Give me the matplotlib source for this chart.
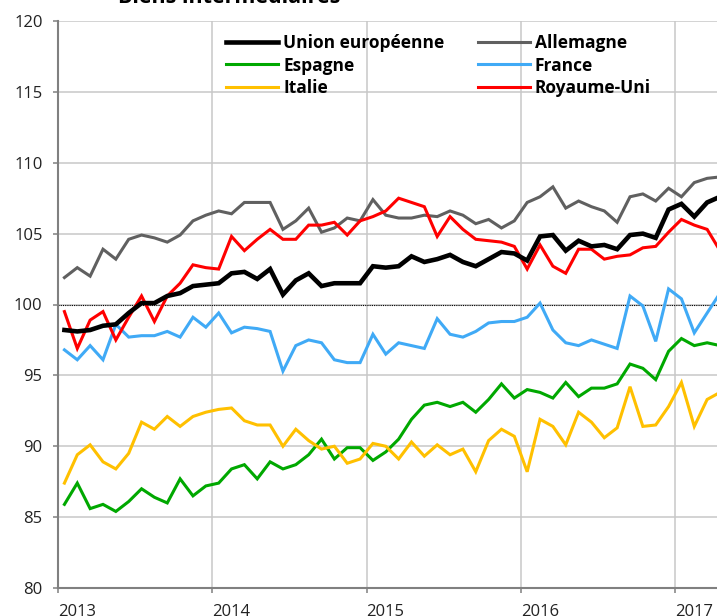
import numpy as np
import matplotlib
matplotlib.use("Agg")
import matplotlib.pyplot as plt

plt.rcParams['font.family'] = ['Open Sans', 'DejaVu Sans']

title = "Biens intermédiaires"
year_labels = ["2013", "2014", "2015", "2016", "2017"]

eu = [98.2, 98.1, 98.2, 98.5, 98.6, 99.4, 100.1, 100.1, 100.6, 100.8, 101.3, 101.4,
      101.5, 102.2, 102.3, 101.8, 102.5, 100.7, 101.7, 102.2, 101.3, 101.5, 101.5, 101.5,
      102.7, 102.6, 102.7, 103.4, 103.0, 103.2, 103.5, 103.0, 102.7, 103.2, 103.7, 103.6,
      103.1, 104.8, 104.9, 103.8, 104.5, 104.1, 104.2, 103.9, 104.9, 105.0, 104.7, 106.7,
      107.1, 106.2, 107.2, 107.6]
allemagne = [101.9, 102.6, 102.0, 103.9, 103.2, 104.6, 104.9, 104.7, 104.4, 104.9, 105.9, 106.3,
             106.6, 106.4, 107.2, 107.2, 107.2, 105.3, 105.9, 106.8, 105.1, 105.4, 106.1, 105.9,
             107.4, 106.3, 106.1, 106.1, 106.3, 106.2, 106.6, 106.3, 105.7, 106.0, 105.4, 105.9,
             107.2, 107.6, 108.3, 106.8, 107.3, 106.9, 106.6, 105.8, 107.6, 107.8, 107.3, 108.2,
             107.6, 108.6, 108.9, 109.0]
espagne = [85.9, 87.4, 85.6, 85.9, 85.4, 86.1, 87.0, 86.4, 86.0, 87.7, 86.5, 87.2,
           87.4, 88.4, 88.7, 87.7, 88.9, 88.4, 88.7, 89.4, 90.5, 89.1, 89.9, 89.9,
           89.0, 89.6, 90.5, 91.9, 92.9, 93.1, 92.8, 93.1, 92.4, 93.3, 94.4, 93.4,
           94.0, 93.8, 93.4, 94.5, 93.5, 94.1, 94.1, 94.4, 95.8, 95.5, 94.7, 96.7,
           97.6, 97.1, 97.3, 97.1]
france = [96.8, 96.1, 97.1, 96.1, 98.6, 97.7, 97.8, 97.8, 98.1, 97.7, 99.1, 98.4,
          99.4, 98.0, 98.4, 98.3, 98.1, 95.3, 97.1, 97.5, 97.3, 96.1, 95.9, 95.9,
          97.9, 96.5, 97.3, 97.1, 96.9, 99.0, 97.9, 97.7, 98.1, 98.7, 98.8, 98.8,
          99.1, 100.1, 98.2, 97.3, 97.1, 97.5, 97.2, 96.9, 100.6, 99.9, 97.4, 101.1,
          100.4, 98.0, 99.4, 100.8]
italie = [87.4, 89.4, 90.1, 88.9, 88.4, 89.5, 91.7, 91.2, 92.1, 91.4, 92.1, 92.4,
          92.6, 92.7, 91.8, 91.5, 91.5, 90.0, 91.2, 90.4, 89.8, 90.0, 88.8, 89.1,
          90.2, 90.0, 89.1, 90.3, 89.3, 90.1, 89.4, 89.8, 88.2, 90.4, 91.2, 90.7,
          88.2, 91.9, 91.4, 90.1, 92.4, 91.7, 90.6, 91.3, 94.2, 91.4, 91.5, 92.8,
          94.5, 91.4, 93.3, 93.8]
royaume_uni = [99.5, 96.9, 98.9, 99.5, 97.5, 99.1, 100.6, 98.8, 100.6, 101.5, 102.8, 102.6,
               102.5, 104.8, 103.8, 104.6, 105.3, 104.6, 104.6, 105.6, 105.6, 105.8, 104.9, 105.9,
               106.2, 106.6, 107.5, 107.2, 106.9, 104.8, 106.2, 105.3, 104.6, 104.5, 104.4, 104.1,
               102.5, 104.2, 102.7, 102.2, 103.9, 103.9, 103.2, 103.4, 103.5, 104.0, 104.1, 105.1,
               106.0, 105.6, 105.3, 103.8]

W, H = 717, 616
fig = plt.figure(figsize=(W / 100, H / 100), dpi=100)
left_px, right_px, top_px, bottom_px = 58, 717, 21, 588
ax = fig.add_axes([left_px / W, 1 - bottom_px / H, (right_px - left_px) / W, (bottom_px - top_px) / H])

def xs(vals):
    return np.arange(len(vals)) + 0.5

series = [
    (allemagne, "Allemagne", "#606060", 2.2),
    (espagne, "Espagne", "#00a800", 2.2),
    (france, "France", "#40aaf6", 2.2),
    (italie, "Italie", "#ffc000", 2.2),
    (royaume_uni, "Royaume-Uni", "#ff0000", 2.2),
    (eu, "Union européenne", "#000000", 3.3),
]
handles = {}
for vals, name, col, lw in series:
    ln, = ax.plot(xs(vals), vals, color=col, lw=lw, solid_joinstyle='miter', label=name)
    handles[name] = ln

ax.axhline(100, color="#000000", lw=0.8, ls=(0, (1, 1)), zorder=1.5)

ax.set_ylim(80, 120)
ax.set_xlim(0, (right_px - left_px) / ((675 - 58) / 48))
ax.set_yticks(np.arange(80, 121, 5))
ax.set_xticks(np.arange(len(year_labels)) * 12)
ax.set_xticklabels(year_labels, ha='left')
ax.grid(True, color="#c8c8c8", lw=1.1)
ax.set_axisbelow(True)
for s in ["top", "right"]:
    ax.spines[s].set_visible(False)
for s in ["left", "bottom"]:
    ax.spines[s].set_color("#808080")
    ax.spines[s].set_linewidth(1.5)
ax.tick_params(axis='both', length=3.6, width=1.1, color="#808080", labelsize=12, labelcolor="#222222")
ax.tick_params(axis='y', pad=7.5)
ax.tick_params(axis='x', pad=8)

fig.text(229 / W, 1 - 3 / H, title, ha='center', va='baseline', fontsize=15.5, fontweight='bold')

order = ["Union européenne", "Espagne", "Italie", "Allemagne", "France", "Royaume-Uni"]
leg = fig.legend([handles[n] for n in order], order, ncol=2, loc='upper left',
                 bbox_to_anchor=(226 / W, 1 - 34 / H), frameon=False,
                 prop={'weight': 'bold', 'size': 12.5}, handlelength=3.0, handletextpad=0.3,
                 columnspacing=1.9, labelspacing=0.26, borderpad=0, borderaxespad=0)

fig.savefig("out.png", dpi=100)
